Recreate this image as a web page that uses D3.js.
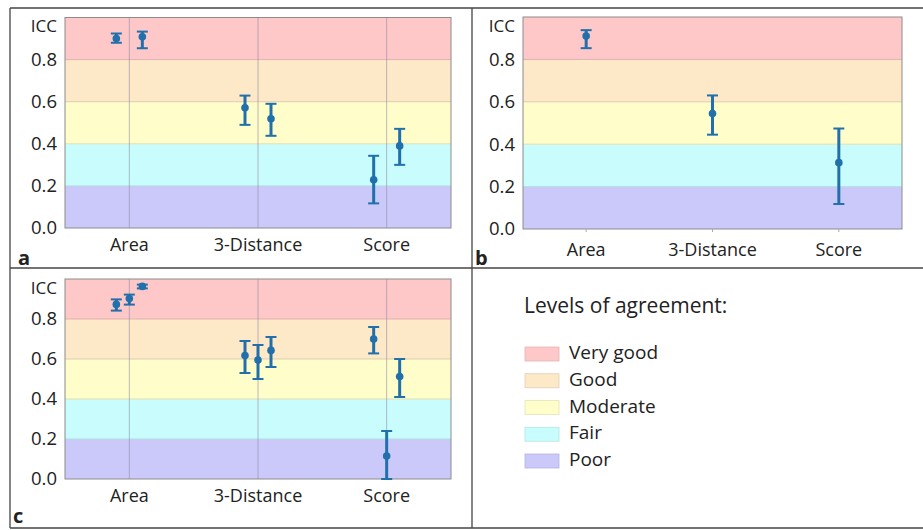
<!DOCTYPE html>
<html>
<head>
<meta charset="utf-8">
<script src="https://cdn.jsdelivr.net/npm/d3@7"></script>
<style>
  body { margin: 0; background: #fff; }
  text { font-family: 'Open Sans', sans-serif; fill: #222; }
</style>
</head>
<body>
<svg id="canvas" width="923" height="530"></svg>
<script>
let categories = ['Area', '3-Distance', 'Score']
let yTicks = [0, 0.2, 0.4, 0.6, 0.8]

let levelNames = ['Poor', 'Fair', 'Moderate', 'Good', 'Very good']
let levelLimits = [0, 0.2, 0.4, 0.6, 0.8, 1.0]
let levelColors = ['#cbc9f9', '#c9fdfd', '#fffdc9', '#fde8c8', '#fec8c8']

// panel a: two series
let aIcc = [[0.90, 0.571, 0.229], [0.908, 0.519, 0.39]]
let aLow = [[0.88, 0.49, 0.117], [0.854, 0.438, 0.30]]
let aHigh = [[0.924, 0.629, 0.343], [0.933, 0.59, 0.471]]

// panel b: one series
let bIcc = [[0.91, 0.545, 0.313]]
let bLow = [[0.853, 0.445, 0.118]]
let bHigh = [[0.938, 0.63, 0.474]]

// panel c: three series
let cIcc = [[0.873, 0.617, 0.70], [0.902, 0.595, 0.115], [0.963, 0.643, 0.512]]
let cLow = [[0.842, 0.53, 0.628], [0.872, 0.50, 0.0], [0.953, 0.56, 0.41]]
let cHigh = [[0.898, 0.69, 0.76], [0.922, 0.67, 0.24], [0.972, 0.71, 0.60]]

let canvas = d3.select('#canvas')
let markColor = '#2170ab'

let drawPanel = (cfg, icc, low, high) => {
    let g = canvas.append('g')

    let xScale = d3.scaleBand()
                   .domain(categories)
                   .range([cfg.x0, cfg.x1])
    let yScale = d3.scaleLinear()
                   .domain([0, 1])
                   .range([cfg.y1, cfg.y0])
    let seriesScale = d3.scalePoint()
                        .domain(d3.range(icc.length))
                        .range([-13, 13])

    g.selectAll('.band')
     .data(levelNames)
     .enter()
     .append('rect')
     .attr('x', cfg.x0)
     .attr('width', cfg.x1 - cfg.x0)
     .attr('y', (d, i) => yScale(levelLimits[i + 1]))
     .attr('height', (d, i) => yScale(levelLimits[i]) - yScale(levelLimits[i + 1]))
     .attr('fill', (d, i) => levelColors[i])

    g.selectAll('.limit')
     .data(levelLimits.slice(1, -1))
     .enter()
     .append('line')
     .attr('x1', cfg.x0)
     .attr('x2', cfg.x1)
     .attr('y1', (d) => yScale(d))
     .attr('y2', (d) => yScale(d))
     .attr('stroke', (d, i) => d3.color(levelColors[i + 1]).darker(0.35))
     .attr('stroke-width', 1)

    if (cfg.grid) {
        g.selectAll('.grid')
         .data(categories)
         .enter()
         .append('line')
         .attr('x1', (d) => xScale(d) + xScale.bandwidth() / 2)
         .attr('x2', (d) => xScale(d) + xScale.bandwidth() / 2)
         .attr('y1', cfg.y0)
         .attr('y2', cfg.y1)
         .attr('stroke', '#8f8aa8')
         .attr('stroke-opacity', 0.6)
    }

    g.append('rect')
     .attr('x', cfg.x0)
     .attr('y', cfg.y0)
     .attr('width', cfg.x1 - cfg.x0)
     .attr('height', cfg.y1 - cfg.y0)
     .attr('fill', 'none')
     .attr('stroke', '#8c8c8c')

    let yAxis = d3.axisLeft(yScale)
                  .tickValues(yTicks)
                  .tickSize(0)
                  .tickPadding(8)
                  .tickFormat(d3.format('.1f'))
    let yg = g.append('g')
              .attr('transform', 'translate(' + cfg.x0 + ', 0)')
              .call(yAxis)
    yg.select('.domain').remove()
    yg.selectAll('text')
      .style('font-size', '18.5px')
      .style('font-family', "'Open Sans', sans-serif")
      .attr('fill', '#222')

    g.append('text')
     .text('ICC')
     .attr('x', cfg.x0 - 8)
     .attr('y', cfg.y0 + 10)
     .attr('text-anchor', 'end')
     .attr('dominant-baseline', 'middle')
     .style('font-size', '17px')

    let xAxis = d3.axisBottom(xScale)
                  .tickSize(cfg.grid ? 0 : 3)
                  .tickPadding(cfg.pad)
    let xg = g.append('g')
              .attr('transform', 'translate(0, ' + cfg.y1 + ')')
              .call(xAxis)
    xg.select('.domain').remove()
    xg.selectAll('line').attr('stroke', '#aaa')
    xg.selectAll('text')
      .style('font-size', '18px')
      .style('font-family', "'Open Sans', sans-serif")
      .attr('fill', '#222')

    let points = []
    icc.forEach((series, s) => {
        series.forEach((value, c) => {
            points.push({
                x: xScale(categories[c]) + xScale.bandwidth() / 2 + seriesScale(s),
                icc: value,
                low: low[s][c],
                high: high[s][c]
            })
        })
    })

    let mark = g.selectAll('.mark')
                .data(points)
                .enter()
                .append('g')

    mark.append('line')
        .attr('x1', (p) => p.x)
        .attr('x2', (p) => p.x)
        .attr('y1', (p) => yScale(p.low))
        .attr('y2', (p) => yScale(p.high))
        .attr('stroke', markColor)
        .attr('stroke-width', 3)

    mark.selectAll('.cap')
        .data((p) => [p.low, p.high].map((v) => ({ x: p.x, v: v })))
        .enter()
        .append('line')
        .attr('x1', (d) => d.x - 5.5)
        .attr('x2', (d) => d.x + 5.5)
        .attr('y1', (d) => yScale(d.v))
        .attr('y2', (d) => yScale(d.v))
        .attr('stroke', markColor)
        .attr('stroke-width', 2)

    mark.append('circle')
        .attr('cx', (p) => p.x)
        .attr('cy', (p) => yScale(p.icc))
        .attr('r', 3.8)
        .attr('fill', markColor)

    canvas.append('text')
          .text(cfg.letter)
          .attr('x', cfg.lx)
          .attr('y', cfg.ly)
          .style('font-size', '20px')
          .style('font-weight', 'bold')
          .attr('fill', '#111')
}

drawPanel({ x0: 65, x1: 451, y0: 17.5, y1: 228, grid: true, pad: 10, letter: 'a', lx: 18, ly: 265 }, aIcc, aLow, aHigh)
drawPanel({ x0: 523, x1: 902, y0: 17, y1: 229, grid: false, pad: 11, letter: 'b', lx: 475, ly: 265 }, bIcc, bLow, bHigh)
drawPanel({ x0: 65, x1: 451, y0: 279, y1: 479, grid: true, pad: 10, letter: 'c', lx: 13, ly: 523 }, cIcc, cLow, cHigh)

// frame lines between panels
let frame = [
    [10, 8, 923, 8],
    [10, 268, 923, 268],
    [10, 528, 923, 528],
    [10, 8, 10, 528],
    [472, 8, 472, 528]
]
canvas.selectAll('.frame')
      .data(frame)
      .enter()
      .append('line')
      .attr('x1', (f) => f[0])
      .attr('y1', (f) => f[1])
      .attr('x2', (f) => f[2])
      .attr('y2', (f) => f[3])
      .attr('stroke', '#444')
      .attr('stroke-width', 1.3)

// legend
let legend = canvas.append('g')
legend.append('text')
      .text('Levels of agreement:')
      .attr('x', 524)
      .attr('y', 313)
      .style('font-size', '21px')

let legendScale = d3.scaleBand()
                    .domain(levelNames.slice().reverse())
                    .range([347, 347 + 26.75 * 5])

let item = legend.selectAll('.item')
                 .data(levelNames.slice().reverse())
                 .enter()
                 .append('g')
item.append('rect')
    .attr('x', 525)
    .attr('y', (d) => legendScale(d))
    .attr('width', 34)
    .attr('height', 14)
    .attr('fill', (d) => levelColors[levelNames.indexOf(d)])
    .attr('stroke', (d) => d3.color(levelColors[levelNames.indexOf(d)]).darker(0.3))
    .attr('stroke-width', 0.8)
item.append('text')
    .text((d) => d)
    .attr('x', 569)
    .attr('y', (d) => legendScale(d) + 7)
    .attr('dominant-baseline', 'middle')
    .style('font-size', '19px')
</script>
</body>
</html>
